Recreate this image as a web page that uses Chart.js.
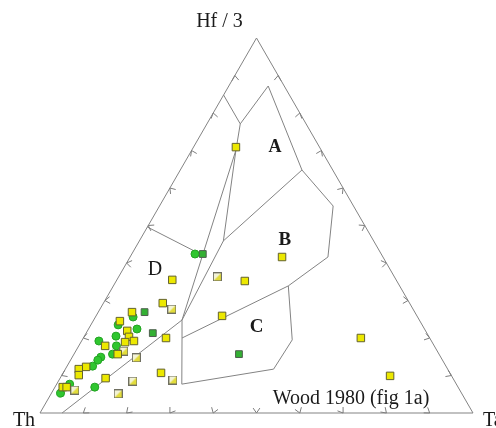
<!DOCTYPE html>
<html>
<head>
<meta charset="utf-8">
<script src="https://cdn.jsdelivr.net/npm/chart.js@4/dist/chart.umd.min.js"></script>
<style>
  html, body { margin: 0; padding: 0; background: #ffffff; }
  #wrap { width: 496px; height: 428px; }
</style>
</head>
<body>
<div id="wrap"><canvas id="c" width="496" height="428"></canvas></div>
<script>
// Compositions in percent: [Th, Hf/3, Ta]
const yellowSamples = [
  [19.3, 70.9, 9.8], [23.3, 41.6, 35.1], [51.7, 35.5, 12.8], [35.1, 35.2, 29.7],
  [57.0, 29.3, 13.7], [65.3, 26.9, 7.8], [69.3, 24.5, 6.2], [68.9, 21.9, 9.2],
  [69.3, 20.3, 10.4], [68.7, 19.2, 12.1], [60.9, 20.0, 19.1], [70.9, 18.9, 10.2],
  [76.0, 17.9, 6.1], [74.2, 15.7, 10.1], [83.2, 12.3, 4.5], [85.2, 11.7, 3.1],
  [86.0, 10.1, 3.9], [80.2, 9.3, 10.5], [66.7, 10.7, 22.6], [91.3, 6.9, 1.8],
  [90.4, 6.9, 2.7], [45.0, 25.9, 29.1], [15.9, 20.0, 64.1], [14.2, 9.9, 75.9]
];
const paleSamples = [
  [40.9, 36.3, 22.8], [55.7, 27.7, 16.6], [72.4, 16.5, 11.1], [70.4, 14.7, 14.9],
  [74.3, 8.5, 17.2], [64.9, 8.8, 26.3], [79.4, 5.1, 15.5], [88.9, 6.1, 5.0]
];
const greenCircleSamples = [
  [43.0, 42.4, 14.6], [65.7, 25.6, 8.7], [70.2, 23.5, 6.3], [66.4, 22.4, 11.2],
  [72.2, 20.5, 7.3], [76.8, 19.2, 4.0], [73.4, 17.9, 8.7], [75.4, 15.7, 8.9],
  [78.5, 14.9, 6.6], [79.6, 14.1, 6.3], [81.6, 12.5, 5.9], [83.9, 6.9, 9.2],
  [89.3, 7.7, 3.0], [92.6, 5.3, 2.1]
];
const greenSquareSamples = [
  [41.2, 42.4, 16.4], [62.4, 26.9, 10.7], [63.3, 21.3, 15.4], [46.2, 15.7, 38.1]
];

// Field boundaries of the Th - Hf/3 - Ta discrimination diagram (Wood 1980)
const triangleEdge = [[100, 0, 0], [0, 0, 100], [0, 100, 0], [100, 0, 0]];
const boundaryLines = [
  [[15.2, 84.8, 0], [15.2, 77.1, 7.7]],
  [[15.2, 77.1, 7.7], [3.7, 87.2, 9.1], [7.1, 64.8, 28.1], [4.7, 55.2, 40.1],
   [12.7, 41.6, 45.7], [25.7, 33.9, 40.4], [32.0, 19.5, 48.5], [40.2, 11.7, 48.1],
   [63.4, 7.7, 28.9], [57.2, 20.0, 22.8], [54.8, 24.8, 20.4]],
  [[15.2, 77.1, 7.7], [19.7, 70.1, 10.2]],
  [[19.7, 70.1, 10.2], [34.7, 45.9, 19.4], [54.8, 24.8, 20.4]],
  [[19.7, 70.1, 10.2], [54.8, 24.8, 20.4], [94.9, 0, 5.1]],
  [[34.7, 45.9, 19.4], [7.1, 64.8, 28.1]],
  [[57.2, 20.0, 22.8], [25.7, 33.9, 40.4]],
  [[50.4, 49.6, 0], [41.8, 42.4, 15.8]]
];
const fieldLabels = [
  { text: 'A', at: [10.3, 70.9, 18.8], font: 'bold 18px "Liberation Serif"' },
  { text: 'B', at: [20.4, 46.1, 33.5], font: 'bold 19px "Liberation Serif"' },
  { text: 'C', at: [38.5, 22.9, 38.6], font: 'bold 19px "Liberation Serif"' },
  { text: 'D', at: [54.4, 38.1, 7.5], font: '20px "Liberation Serif"' }
];
const apexLabels = { hf: 'Hf / 3', th: 'Th', ta: 'Ta' };
const captionText = 'Wood 1980 (fig 1a)';
const tickFractions = [0.1, 0.2, 0.3, 0.4, 0.5, 0.6, 0.7, 0.8, 0.9];

const H = Math.sqrt(3) / 2;
function toXY(c) {
  const s = c[0] + c[1] + c[2];
  const hf = c[1] / s, ta = c[2] / s;
  return { x: ta + hf / 2, y: hf * H };
}

// Half pale / half yellow square marker
function paleMarker() {
  const cv = document.createElement('canvas');
  cv.width = 9; cv.height = 9;
  const g = cv.getContext('2d');
  g.fillStyle = '#f3f3d6';
  g.fillRect(0, 0, 9, 9);
  g.fillStyle = '#e2dc3a';
  g.beginPath(); g.moveTo(8.5, 0.5); g.lineTo(8.5, 8.5); g.lineTo(0.5, 8.5); g.closePath(); g.fill();
  g.strokeStyle = '#6f6f60';
  g.lineWidth = 1;
  g.strokeRect(0.5, 0.5, 8, 8);
  return cv;
}

const lineStyle = { type: 'scatter', showLine: true, pointRadius: 0, borderColor: '#838383',
  borderWidth: 1, fill: false, clip: false, order: 2, tension: 0 };

const datasets = [];
datasets.push(Object.assign({}, lineStyle, { data: triangleEdge.map(toXY) }));
boundaryLines.forEach(l => datasets.push(Object.assign({}, lineStyle, { data: l.map(toXY) })));
datasets.push({ type: 'scatter', data: yellowSamples.map(toXY), pointStyle: 'rect', pointRadius: 5.3,
  backgroundColor: '#ece800', borderColor: '#64622e', borderWidth: 1, clip: false, order: 0 });
datasets.push({ type: 'scatter', data: paleSamples.map(toXY), pointStyle: paleMarker(),
  clip: false, order: 0 });
datasets.push({ type: 'scatter', data: greenCircleSamples.map(toXY), pointStyle: 'circle', pointRadius: 4,
  backgroundColor: '#2fc62f', borderColor: '#22a322', borderWidth: 1, clip: false, order: 0 });
datasets.push({ type: 'scatter', data: greenSquareSamples.map(toXY), pointStyle: 'rect', pointRadius: 4.8,
  backgroundColor: '#33b033', borderColor: '#4f5f4f', borderWidth: 1, clip: false, order: 0 });

// Ticks along the sides and all text of the diagram
const decorations = {
  id: 'ternaryDecor',
  afterDatasetsDraw(chart) {
    const ctx = chart.ctx, sx = chart.scales.x, sy = chart.scales.y;
    const px = c => { const p = toXY(c); return [sx.getPixelForValue(p.x), sy.getPixelForValue(p.y)]; };
    const th = px([100, 0, 0]), ta = px([0, 0, 100]), hf = px([0, 100, 0]);
    const cx = (th[0] + ta[0] + hf[0]) / 3, cy = (th[1] + ta[1] + hf[1]) / 3;
    ctx.save();
    ctx.strokeStyle = '#7d7d7d';
    ctx.lineWidth = 1;
    const sides = [[th, hf], [hf, ta], [ta, th]];
    sides.forEach(([a, b]) => {
      tickFractions.forEach(f => {
        const x = a[0] + (b[0] - a[0]) * f, y = a[1] + (b[1] - a[1]) * f;
        let nx = cx - x, ny = cy - y;
        const d = Math.hypot(nx, ny); nx /= d; ny /= d;
        const ang = 0.6, len = 6;
        ctx.beginPath();
        for (const s of [-1, 1]) {
          const c = Math.cos(s * ang), sn = Math.sin(s * ang);
          const dx = nx * c - ny * sn, dy = nx * sn + ny * c;
          ctx.moveTo(x, y); ctx.lineTo(x + dx * len, y + dy * len);
        }
        ctx.stroke();
      });
    });
    ctx.fillStyle = '#1a1a1a';
    ctx.textAlign = 'center';
    ctx.textBaseline = 'middle';
    ctx.font = '20px "Liberation Serif"';
    ctx.fillText(apexLabels.hf, hf[0] - 37, hf[1] - 16);
    ctx.fillText(apexLabels.th, th[0] - 16, th[1] + 8);
    ctx.textAlign = 'left';
    ctx.fillText(apexLabels.ta, ta[0] + 10, ta[1] + 8);
    ctx.textAlign = 'center';
    ctx.fillText(captionText, ta[0] - 122, ta[1] - 14);
    fieldLabels.forEach(l => {
      const p = px(l.at);
      ctx.font = l.font;
      ctx.fillText(l.text, p[0], p[1]);
    });
    ctx.restore();
  }
};

new Chart(document.getElementById('c'), {
  type: 'scatter',
  data: { datasets },
  options: {
    responsive: false,
    animation: false,
    devicePixelRatio: 1,
    layout: { padding: { left: 40, right: 23, top: 38, bottom: 15 } },
    scales: {
      x: { type: 'linear', min: 0, max: 1, display: false },
      y: { type: 'linear', min: 0, max: H, display: false }
    },
    plugins: { legend: { display: false }, tooltip: { enabled: false } },
    events: []
  },
  plugins: [decorations]
});
</script>
</body>
</html>
